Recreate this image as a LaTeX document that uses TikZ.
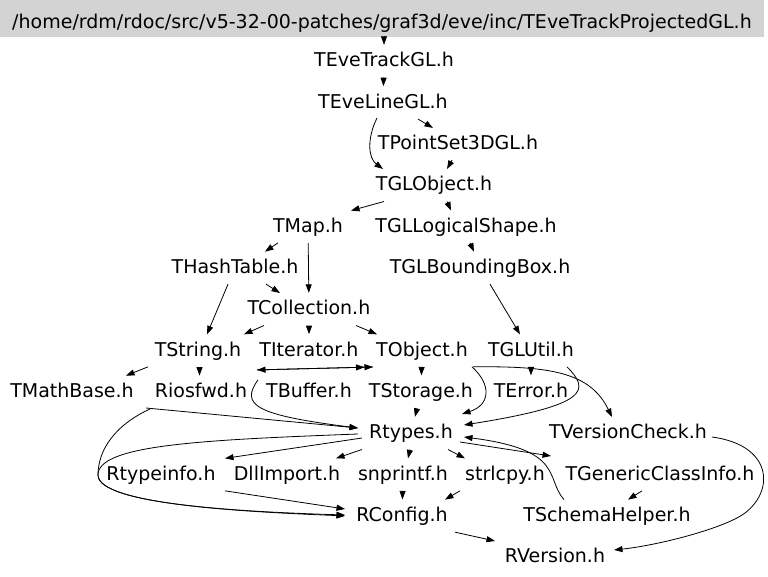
\documentclass[tikz,border=0pt]{standalone}
\usepackage{fontspec}
\setmainfont{DejaVu Sans}
\usetikzlibrary{arrows.meta,calc}
\definecolor{topgray}{RGB}{211,211,211}
\begin{document}
\begin{tikzpicture}[x=1pt,y=-1pt,
  lbl/.style={font=\fontsize{19}{22}\selectfont, inner xsep=3pt, inner ysep=0pt, text height=21.9pt, text depth=10.6pt},
  edge/.style={draw=black, line width=0.8pt, -{Triangle[length=8.5pt,width=6pt]}},
  dedge/.style={draw=black, line width=0.8pt, -{Triangle[length=8.5pt,width=6pt]Triangle[length=8.5pt,width=6pt]}},
]
\useasboundingbox (0,0) rectangle (768,577);
\node[fill=topgray, minimum width=764pt, minimum height=37pt, inner sep=0pt, text height=20pt, text depth=0pt, font=\fontsize{19}{22}\selectfont] (top) at (382,18.5) {/home/rdm/rdoc/src/v5-32-00-patches/graf3d/eve/inc/TEveTrackProjectedGL.h};

\node[lbl] (evetrack) at (384,61.25) {TEveTrackGL.h};
\node[lbl] (eveline) at (383,102.6) {TEveLineGL.h};
\node[lbl] (pointset) at (458,143.9) {TPointSet3DGL.h};
\node[lbl] (globj) at (434,185.25) {TGLObject.h};
\node[lbl] (tmap) at (308,226.6) {TMap.h};
\node[lbl] (logshape) at (466,226.6) {TGLLogicalShape.h};
\node[lbl] (hash) at (235,267.9) {THashTable.h};
\node[lbl] (bbox) at (480,267.9) {TGLBoundingBox.h};
\node[lbl] (coll) at (309,309.25) {TCollection.h};
\node[lbl] (tstring) at (198,350.6) {TString.h};
\node[lbl] (titer) at (309,350.6) {TIterator.h};
\node[lbl] (tobj) at (422,350.6) {TObject.h};
\node[lbl] (glutil) at (531,350.6) {TGLUtil.h};
\node[lbl] (mathbase) at (72,391.9) {TMathBase.h};
\node[lbl] (riosfwd) at (201,391.9) {Riosfwd.h};
\node[lbl] (tbuffer) at (309,391.9) {TBuffer.h};
\node[lbl] (tstorage) at (421,391.9) {TStorage.h};
\node[lbl] (terror) at (531,391.9) {TError.h};
\node[lbl] (rtypes) at (411,433.25) {Rtypes.h};
\node[lbl] (vcheck) at (628,433.25) {TVersionCheck.h};
\node[lbl] (rtypeinfo) at (161,474.6) {Rtypeinfo.h};
\node[lbl] (dllimport) at (287,474.6) {DllImport.h};
\node[lbl] (snprintf) at (403,474.6) {snprintf.h};
\node[lbl] (strlcpy) at (505,474.6) {strlcpy.h};
\node[lbl] (gci) at (660,474.6) {TGenericClassInfo.h};
\node[lbl] (rconfig) at (402,515.9) {RConfig.h};
\node[lbl] (schema) at (607,515.9) {TSchemaHelper.h};
\node[lbl] (rversion) at (555,557.25) {RVersion.h};

\draw[edge] (evetrack |- top.south) -- (evetrack);
\draw[edge] (evetrack) -- (eveline);
\draw[edge] ($(eveline)+(35,16.5)$) -- ($(pointset)+(-25,-16)$);
\draw[edge] ($(eveline)+(-6,15.4)$) .. controls (367,138) and (368,158) .. ($(globj)+(-51,-16.25)$);
\draw[edge] ($(pointset)+(-6,16.25)$) -- ($(globj)+(13,-16.25)$);
\draw[edge] ($(globj)+(-50,16.25)$) -- ($(tmap)+(43,-16)$);
\draw[edge] ($(globj)+(13,16.25)$) -- ($(logshape)+(-15,-16.2)$);
\draw[edge] ($(tmap)+(-30,16.25)$) -- ($(hash)+(30,-16.25)$);
\draw[edge] (tmap) -- (coll);
\draw[edge] ($(logshape)+(4,16.25)$) -- ($(bbox)+(-6,-16.25)$);
\draw[edge] ($(hash)+(31,16.25)$) -- ($(coll)+(-29,-16.25)$);
\draw[edge] ($(hash)+(-7,16.25)$) -- ($(tstring)+(9,-16.25)$);
\draw[edge] ($(bbox)+(10,16.25)$) -- ($(glutil)+(-11,-16.25)$);
\draw[edge] ($(coll)+(-45,16.25)$) -- ($(tstring)+(46,-16.25)$);
\draw[edge] (coll) -- (titer);
\draw[edge] ($(coll)+(47,16.25)$) -- ($(tobj)+(-45,-16.25)$);
\draw[edge] ($(tstring)+(-50,16.25)$) -- ($(mathbase)+(54,-16.25)$);
\draw[edge] ($(tstring)+(1.5,16.25)$) -- ($(riosfwd)+(-1.5,-16.25)$);
\draw[edge] (tobj) -- (tstorage);
\draw[edge] (glutil) -- (terror);
\draw[edge] ($(tobj)+(51,16.25)$) .. controls (550,366) and (590,372) .. ($(vcheck)+(-16,-16.25)$);
\draw[edge] ($(glutil)+(36,16.25)$) .. controls (590,390) and (590,405) .. ($(rtypes)+(53,-8.25)$);
\draw[edge] ($(tobj)+(50,16.25)$) .. controls (492,385) and (490,405) .. ($(rtypes)+(51,-19.25)$);
\draw[edge] (tstorage) -- (rtypes);
\draw[edge] ($(mathbase)+(74,16.1)$) -- ($(rtypes)+(-53,-5.25)$);
\draw[edge] ($(riosfwd)+(-51,17.1)$) .. controls (115,425) and (98,450) .. (98,475) .. controls (98,505) and (250,512) .. ($(rconfig)+(-57,-0.9)$);
\draw[edge] ($(rtypes)+(-53,0.75)$) .. controls (200,440) and (98,445) .. (98,475) .. controls (98,505) and (250,512) .. ($(rconfig)+(-57,0)$);
\draw[edge] ($(tbuffer)+(-51,-12)$) .. controls (240,405) and (255,415) .. ($(rtypes)+(-53,-5.25)$);
\draw[edge] ($(tobj)+(-49,16.4)$) -- ($(tbuffer)+(-52,-22)$);
\draw[dedge] ($(tbuffer)+(-52,-22)$) -- ($(tobj)+(-49,16.4)$);
\draw[edge] ($(rtypes)+(-49,4.75)$) -- ($(rtypeinfo)+(64,-16.25)$);
\draw[edge] ($(rtypes)+(-49,16.25)$) -- ($(dllimport)+(49,-16.25)$);
\draw[edge] ($(rtypes)+(-1,16.25)$) -- ($(snprintf)+(5,-16.25)$);
\draw[edge] ($(rtypes)+(37,16.25)$) -- ($(strlcpy)+(-40,-16.25)$);
\draw[edge] ($(rtypes)+(49,8.75)$) -- ($(gci)+(-109,-18.6)$);
\draw[edge] ($(schema)+(-43,-16.25)$) .. controls (545,478) and (565,450) .. ($(rtypes)+(53,3.75)$);
\draw[edge] ($(rtypeinfo)+(64,16.25)$) -- ($(rconfig)+(-57,-6.9)$);
\draw[edge] (snprintf) -- (rconfig);
\draw[edge] ($(strlcpy)+(-45,16.25)$) -- ($(rconfig)+(43,-16.25)$);
\draw[edge] ($(rconfig)+(53,16.25)$) -- ($(rversion)+(-60,-16.25)$);
\draw[edge] ($(vcheck)+(84,3.75)$) .. controls (772,445) and (775,490) .. (745,513) .. controls (725,528) and (660,545) .. ($(rversion)+(59,-7.25)$);
\draw[edge] ($(gci)+(-18,16.25)$) -- ($(schema)+(21,-16.25)$);
\end{tikzpicture}
\end{document}
